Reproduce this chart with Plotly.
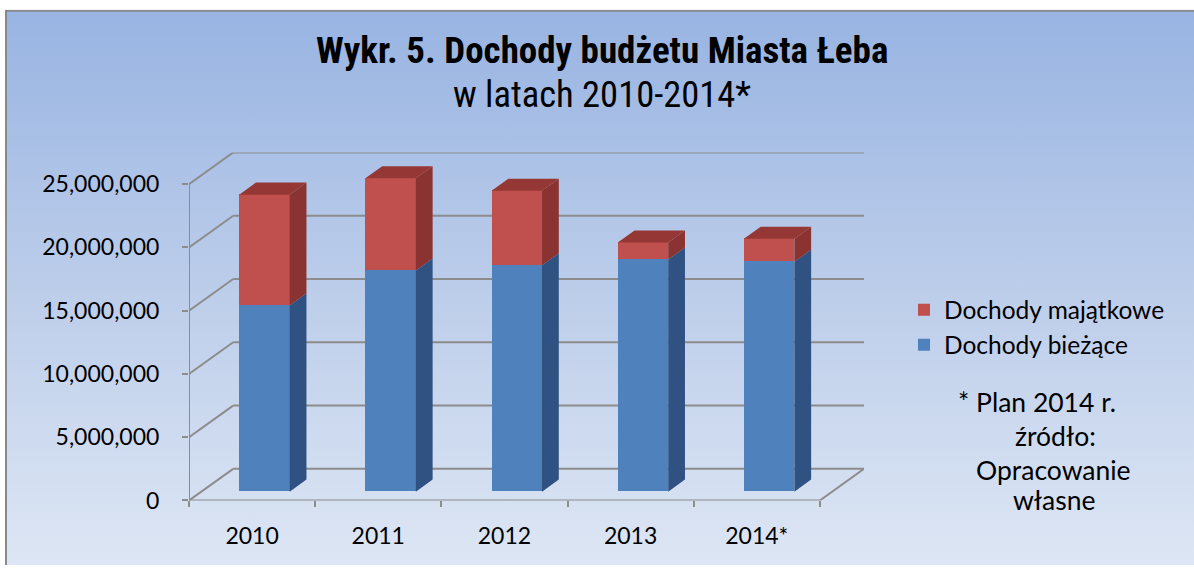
import base64
import plotly.graph_objects as go

# ---------------- data ----------------
categories = ["2010", "2011", "2012", "2013", "2014*"]
biezace = [14730000, 17470000, 17880000, 18350000, 18170000]      # Dochody bieżące
majatkowe = [8740000, 7290000, 5890000, 1340000, 1810000]         # Dochody majątkowe
ytick_vals = [0, 5000000, 10000000, 15000000, 20000000, 25000000]
ytick_text = ["0", "5,000,000", "10,000,000", "15,000,000", "20,000,000", "25,000,000"]
name_b = "Dochody bieżące"
name_m = "Dochody majątkowe"

# ---------------- 3D look parameters ----------------
W_PX, H_PX = 1194, 578
DX, DY = 0.35, 2.5e6          # depth vector (category units, value units)
F0, FD, BW = 0.28, 0.38, 0.4   # front depth of bar, bar depth, bar width
YMAX = 25e6 + DY
XMIN, XMAX = -0.5, len(categories) - 0.5 + DX

C_BLUE, C_BLUE_SIDE = "#4F81BD", "#2F5283"
C_RED, C_RED_SIDE, C_RED_TOP = "#C0504D", "#8A3330", "#953835"
GRID = "#8C8C8C"
FONT = "Lato, 'Open Sans', sans-serif"
TFONT = "'Liberation Sans Narrow', 'Arial Narrow', 'Roboto Condensed', 'Liberation Sans', sans-serif"

idx = list(range(len(categories)))
xfront = [i + F0 * DX for i in idx]
base0 = F0 * DY

fig = go.Figure()

# front faces (real bars)
fig.add_trace(go.Bar(x=xfront, y=biezace, base=base0, width=BW, name=name_b,
                     marker=dict(color=C_BLUE, line=dict(width=0)), legendrank=2,
                     hoverinfo="skip"))
fig.add_trace(go.Bar(x=xfront, y=majatkowe, base=[base0 + b for b in biezace], width=BW,
                     name=name_m, marker=dict(color=C_RED, line=dict(width=0)),
                     legendrank=1, hoverinfo="skip"))


def side_poly(xs, lows, highs):
    px, py = [], []
    for x, lo, hi in zip(xs, lows, highs):
        xr = x + BW / 2
        px += [xr, xr + FD * DX, xr + FD * DX, xr, xr, None]
        py += [lo, lo + FD * DY, hi + FD * DY, hi, lo, None]
    return px, py


def top_poly(xs, tops):
    px, py = [], []
    for x, t in zip(xs, tops):
        xl, xr = x - BW / 2, x + BW / 2
        px += [xl, xr, xr + FD * DX, xl + FD * DX, xl, None]
        py += [t, t, t + FD * DY, t + FD * DY, t, None]
    return px, py


lo_b = [base0] * len(idx)
hi_b = [base0 + b for b in biezace]
hi_m = [h + m for h, m in zip(hi_b, majatkowe)]

for (px, py), col in [(side_poly(xfront, lo_b, hi_b), C_BLUE_SIDE),
                      (side_poly(xfront, hi_b, hi_m), C_RED_SIDE),
                      (top_poly(xfront, hi_m), C_RED_TOP)]:
    fig.add_trace(go.Scatter(x=px, y=py, mode="lines", fill="toself", fillcolor=col,
                             line=dict(width=0, color=col), showlegend=False,
                             hoverinfo="skip"))

# ---------------- walls / gridlines as shapes ----------------
shapes = []


def seg(x0, y0, x1, y1, w=2):
    shapes.append(dict(type="line", xref="x", yref="y", x0=x0, y0=y0, x1=x1, y1=y1,
                       layer="below", line=dict(color=GRID, width=w)))


x_left, x_right = -0.5, len(categories) - 0.5
for v in ytick_vals:
    seg(x_left + DX, v + DY, x_right + DX, v + DY)   # back wall
    seg(x_left, v, x_left + DX, v + DY)              # side wall
seg(x_left, 0, x_left, ytick_vals[-1])               # front vertical edge
seg(x_left, 0, x_right, 0)                           # floor front edge
seg(x_right, 0, x_right + DX, DY)                    # floor right edge

# ---------------- background gradient image ----------------
bw, bh = W_PX - 5, H_PX - 10
svg = f'''<svg xmlns="http://www.w3.org/2000/svg" width="{bw}" height="{bh}" viewBox="0 0 {bw} {bh}" preserveAspectRatio="none">
<defs><linearGradient id="g" x1="0" y1="0" x2="0" y2="1">
<stop offset="0" stop-color="#98B4E2"/><stop offset="0.5" stop-color="#BCCDEA"/><stop offset="1" stop-color="#DDE6F4"/>
</linearGradient></defs>
<rect x="0" y="0" width="{bw}" height="{bh}" fill="url(#g)"/>
<line x1="1" y1="0" x2="1" y2="{bh}" stroke="#898989" stroke-width="2"/>
<line x1="0" y1="1" x2="{bw}" y2="1" stroke="#898989" stroke-width="2"/>
</svg>'''
src = "data:image/svg+xml;base64," + base64.b64encode(svg.encode()).decode()

NOTE = dict(family=FONT, size=26.5, color="black")

fig.update_layout(
    width=W_PX, height=H_PX,
    margin=dict(l=0, r=0, t=0, b=0),
    paper_bgcolor="white", plot_bgcolor="rgba(0,0,0,0)",
    barmode="overlay", bargap=0,
    images=[dict(source=src, xref="paper", yref="paper", x=5 / W_PX, y=1 - 10 / H_PX,
                 sizex=bw / W_PX, sizey=bh / H_PX, sizing="stretch", layer="below",
                 xanchor="left", yanchor="top")],
    shapes=shapes,
    xaxis=dict(domain=[189 / W_PX, 864 / W_PX], range=[XMIN, XMAX], showgrid=False,
               zeroline=False, showline=False, tickvals=idx, ticktext=categories,
               ticks="", ticklabelstandoff=20,
               tickfont=dict(family=FONT, size=23, color="black"),
               minor=dict(tick0=-0.5, dtick=1, ticks="outside", ticklen=6, tickcolor=GRID,
                          tickwidth=2, showgrid=False)),
    yaxis=dict(domain=[66 / H_PX, 422 / H_PX], range=[0, YMAX], showgrid=False,
               zeroline=False, showline=False, tickvals=ytick_vals, ticktext=ytick_text,
               ticks="outside", ticklen=6, tickcolor=GRID, tickwidth=2,
               ticklabelstandoff=18,
               tickfont=dict(family=FONT, size=23, color="black")),
    legend=dict(x=904 / W_PX, y=1 - 294 / H_PX, xanchor="left", yanchor="top",
                bgcolor="rgba(0,0,0,0)", font=dict(family=FONT, size=24.5, color="black"),
                itemclick=False),
    annotations=[
        dict(text="<b>Wykr. 5. Dochody budżetu Miasta Łeba</b>", x=602 / W_PX, y=1 - 52 / H_PX,
             xref="paper", yref="paper", showarrow=False, xanchor="center", yanchor="middle",
             font=dict(family=TFONT, size=37, color="black")),
        dict(text="w latach 2010-2014*", x=602 / W_PX, y=1 - 97 / H_PX,
             xref="paper", yref="paper", showarrow=False, xanchor="center", yanchor="middle",
             font=dict(family=TFONT, size=36.5, color="black")),
        dict(text="* Plan 2014 r.", x=1037 / W_PX, y=1 - 411 / H_PX, xref="paper", yref="paper",
             showarrow=False, xanchor="center", yanchor="middle", font=NOTE),
        dict(text="źródło:", x=1055 / W_PX, y=1 - 446 / H_PX, xref="paper", yref="paper",
             showarrow=False, xanchor="center", yanchor="middle", font=NOTE),
        dict(text="Opracowanie", x=1053 / W_PX, y=1 - 481 / H_PX, xref="paper", yref="paper",
             showarrow=False, xanchor="center", yanchor="middle", font=NOTE),
        dict(text="własne", x=1054 / W_PX, y=1 - 512 / H_PX, xref="paper", yref="paper",
             showarrow=False, xanchor="center", yanchor="middle", font=NOTE),
    ],
)

fig.write_html("out.html", config={"displayModeBar": False},
               post_script="document.body.style.margin='0';document.body.style.overflow='hidden';")
